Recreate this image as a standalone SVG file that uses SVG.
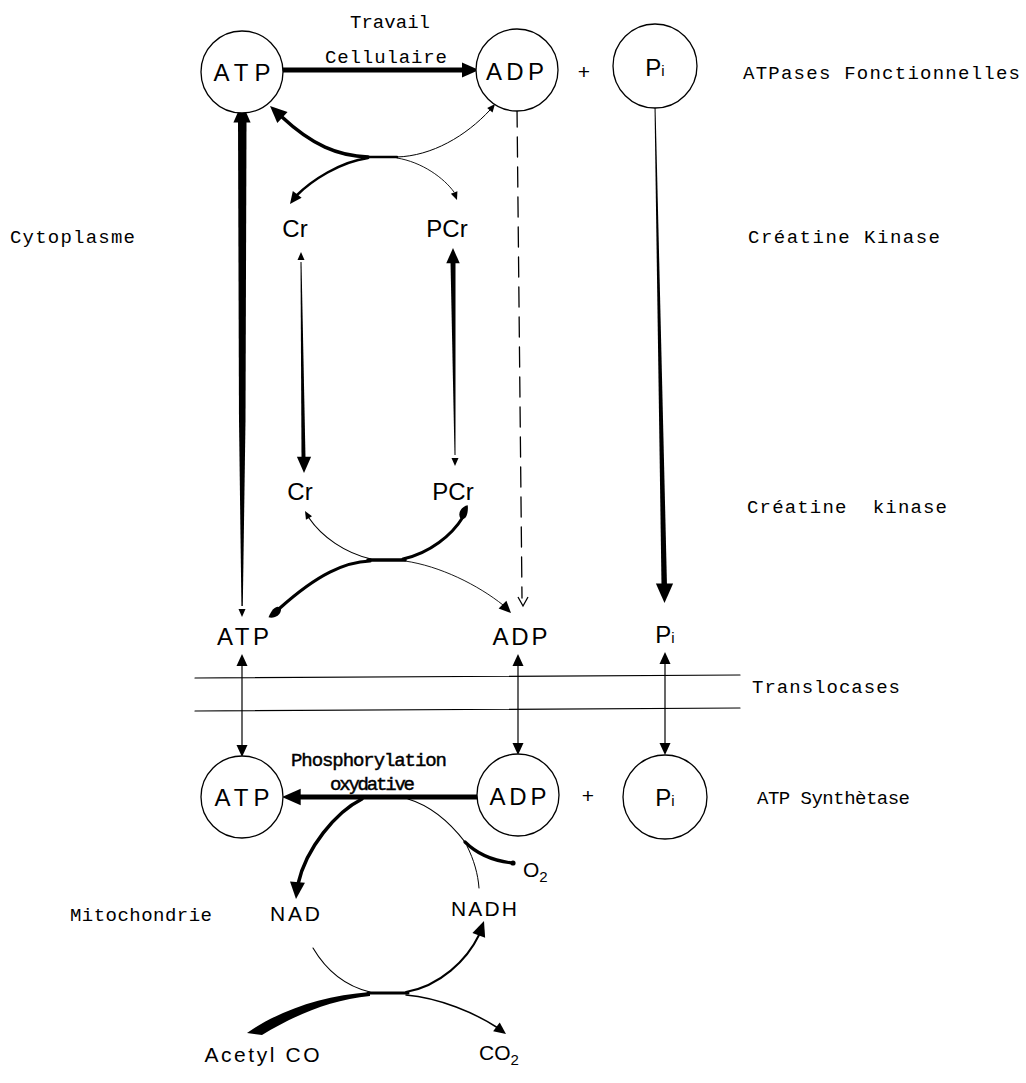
<svg xmlns="http://www.w3.org/2000/svg" width="1026" height="1083" viewBox="0 0 1026 1083">
<style>
 .c{fill:#fff;stroke:#000;stroke-width:1.3}
 .n{font-family:"Liberation Sans",Arial,sans-serif;font-size:24px;text-anchor:middle;fill:#000}
 .m{font-family:"Liberation Sans",Arial,sans-serif;font-size:21px;text-anchor:middle;fill:#000}
 .l{font-family:"Liberation Mono","DejaVu Sans Mono",monospace;font-size:19px;fill:#000}
 .b{stroke:#000;stroke-width:0.45}
 .s{fill:none;stroke:#000;stroke-linecap:round}
 .f{fill:#000;stroke:none}
</style>
<defs>
 <path id="hb" d="M0,0 L-17,-7.5 L-17,7.5 Z"/>
 <path id="hm" d="M0,0 L-12,-5.5 L-12,5.5 Z"/>
 <path id="hs" d="M0,0 L-8,-3.5 L-8,3.5 Z"/>
 <path id="hd" d="M2,0 C-1,-5 -9,-7 -13,-2 C-14,3 -8,5 2,0 Z"/>
 <path id="hv" d="M-9,-5 L0,0 L-9,5" fill="none" stroke="#000" stroke-width="1.3"/>
</defs>

<g id="labels">
 <text class="l" x="350" y="28" textLength="80">Travail</text>
 <text class="l" x="325" y="63" textLength="122">Cellulaire</text>
 <text class="l" x="743" y="79" textLength="277">ATPases Fonctionnelles</text>
 <text class="l" x="10" y="243" textLength="125">Cytoplasme</text>
 <text class="l" x="748" y="243" textLength="192">Créatine Kinase</text>
 <text class="l" x="747" y="513" textLength="200" xml:space="preserve">Créatine  kinase</text>
 <text class="l" x="752" y="693" textLength="148">Translocases</text>
 <text class="l" x="757" y="804" textLength="153">ATP Synthètase</text>
 <text class="l b" x="291" y="766" textLength="156">Phosphorylation</text>
 <text class="l b" x="330" y="790" textLength="85">oxydative</text>
 <text class="l" x="70" y="921" textLength="142">Mitochondrie</text>
</g>

<g id="connectors">
 <!-- Travail cellulaire ATP -> ADP -->
 <line class="s" x1="283" y1="70" x2="464" y2="70" stroke-width="5"/>
 <use href="#hb" transform="translate(479,70)"/>
 <!-- ATP top <-> ATP lower -->
 <path class="f" d="M238,122 L246.5,122 L245.5,420 L242.8,606 L241.4,606 L239,420 Z"/>
 <use href="#hb" transform="translate(242,103) rotate(-90) scale(1.15)"/>
 <use href="#hs" transform="translate(242,617) rotate(90)"/>
 <!-- top coupled reaction -->
 <path class="s" d="M282,117 C312,145 338,156 368,157" stroke-width="3.5"/>
 <path class="s" d="M366,157 L397,157" stroke-width="2.5"/>
 <path class="s" d="M397,157 C432,156 466,136 490,110" stroke-width="1"/>
 <use href="#hb" transform="translate(270,106) rotate(-137)"/>
 <use href="#hs" transform="translate(495,104) rotate(-50)"/>
 <path class="s" d="M368,158 C340,162 312,180 296,196" stroke-width="2.5"/>
 <use href="#hm" transform="translate(290,204) rotate(127)"/>
 <path class="s" d="M397,158 C422,162 444,178 454,192" stroke-width="0.9"/>
 <use href="#hs" transform="translate(457,200) rotate(69)"/>
 <!-- Cr vertical -->
 <path class="f" d="M300.5,262 L301.5,262 L305.5,458 L301.5,458 Z"/>
 <use href="#hs" transform="translate(301,252) rotate(-90)"/>
 <use href="#hb" transform="translate(304,473) rotate(90) scale(0.95)"/>
 <!-- PCr vertical -->
 <path class="f" d="M450.5,262 L455.5,262 L455.5,455 L454.5,455 Z"/>
 <use href="#hb" transform="translate(453,248) rotate(-90) scale(0.9)"/>
 <use href="#hs" transform="translate(455,466) rotate(90)"/>
 <!-- ADP dashed -->
 <line class="s" x1="517" y1="107" x2="522" y2="598" stroke-width="1.3" stroke-dasharray="20 10" stroke-linecap="butt"/>
 <use href="#hv" transform="translate(523,606) rotate(90)"/>
 <!-- Pi vertical -->
 <path class="f" d="M654.5,106 L655.5,106 L667,586 L661.5,586 Z"/>
 <use href="#hb" transform="translate(664.5,603) rotate(90) scale(1.15)"/>
 <!-- lower coupled reaction -->
 <path class="s" d="M371,559 C345,553 322,537 309,518" stroke-width="1.2"/>
 <use href="#hs" transform="translate(305,511) rotate(-120)"/>
 <path class="s" d="M403,559 C430,553 452,535 463,517" stroke-width="3"/>
 <use href="#hd" transform="translate(467,507) rotate(-68)"/>
 <path class="s" d="M368,560 L405,560" stroke-width="3.5"/>
 <path class="s" d="M370,561 C345,562 318,574 280,608" stroke-width="3.2"/>
 <use href="#hd" transform="translate(270,616) rotate(138)"/>
 <path class="s" d="M405,561 C440,566 478,585 503,605" stroke-width="0.9"/>
 <use href="#hm" transform="translate(511,613) rotate(45)"/>
 <!-- membrane -->
 <line class="s" x1="195" y1="678" x2="740" y2="675" stroke-width="1.2"/>
 <line class="s" x1="195" y1="711" x2="740" y2="708" stroke-width="1.2"/>
 <!-- translocase verticals -->
 <line class="s" x1="242" y1="664" x2="242" y2="747" stroke-width="1.2"/>
 <use href="#hm" transform="translate(242,654) rotate(-90)"/>
 <use href="#hm" transform="translate(242,757) rotate(90)"/>
 <line class="s" x1="518" y1="664" x2="518" y2="745" stroke-width="1.2"/>
 <use href="#hm" transform="translate(518,654) rotate(-90)"/>
 <use href="#hm" transform="translate(518,755) rotate(90)"/>
 <line class="s" x1="665" y1="662" x2="665" y2="745" stroke-width="1.2"/>
 <use href="#hm" transform="translate(665,652) rotate(-90)"/>
 <use href="#hm" transform="translate(665,755) rotate(90)"/>
 <!-- oxidative phosphorylation ADP -> ATP -->
 <line class="s" x1="478" y1="797" x2="298" y2="797" stroke-width="5"/>
 <use href="#hb" transform="translate(282,797) rotate(180) scale(1.1)"/>
 <path class="s" d="M362,799 C336,812 306,848 298,884" stroke-width="3.5"/>
 <use href="#hb" transform="translate(296,899) rotate(95)"/>
 <path class="s" d="M408,799 C428,805 448,820 465,842" stroke-width="1.2"/>
 <path class="s" d="M465,842 C478,855 495,861 512,863" stroke-width="3.2"/>
 <circle class="f" cx="513" cy="863" r="2.6"/>
 <path class="s" d="M467,846 C474,860 478,874 479,888" stroke-width="1"/>
 <!-- Krebs coupling -->
 <path class="s" d="M313,948 C326,970 345,986 370,992" stroke-width="1.1"/>
 <path class="s" d="M368,993 L408,993" stroke-width="3"/>
 <path class="s" d="M406,992 C440,986 467,960 479,935" stroke-width="2"/>
 <use href="#hb" transform="translate(484,921) rotate(-70) scale(0.9)"/>
 <path class="f" d="M247,1033 C280,1010 322,996 370,992 L370,996 C330,1000 295,1015 262,1035 Z"/>
 <path class="s" d="M406,995 C440,998 475,1013 498,1028" stroke-width="1.5"/>
 <use href="#hm" transform="translate(506,1034) rotate(37)"/>
</g>

<g id="n-atp-top"><circle class="c" cx="242" cy="72" r="41"/><text class="n" x="242" y="81" textLength="57">ATP</text></g>
<g id="n-adp-top"><circle class="c" cx="517" cy="70" r="41"/><text class="n" x="515" y="80" textLength="58">ADP</text></g>
<g id="n-plus-top"><text class="m" x="584" y="79">+</text></g>
<g id="n-pi-top"><circle class="c" cx="655" cy="66" r="42"/><text class="n" x="655" y="76">P<tspan font-size="15">i</tspan></text></g>
<g id="n-cr1"><text class="n" x="295" y="237">Cr</text></g>
<g id="n-pcr1"><text class="n" x="447" y="237">PCr</text></g>
<g id="n-cr2"><text class="n" x="300" y="500">Cr</text></g>
<g id="n-pcr2"><text class="n" x="453" y="500">PCr</text></g>
<g id="n-atp-mid"><text class="n" x="243" y="645" textLength="52">ATP</text></g>
<g id="n-adp-mid"><text class="n" x="520" y="645" textLength="55">ADP</text></g>
<g id="n-pi-mid"><text class="n" x="665" y="643">P<tspan font-size="15">i</tspan></text></g>
<g id="n-atp-bot"><circle class="c" cx="242" cy="797" r="41"/><text class="n" x="242" y="806" textLength="55">ATP</text></g>
<g id="n-adp-bot"><circle class="c" cx="518" cy="795" r="41"/><text class="n" x="518" y="805" textLength="57">ADP</text></g>
<g id="n-plus-bot"><text class="m" x="588" y="803">+</text></g>
<g id="n-pi-bot"><circle class="c" cx="665" cy="797" r="42"/><text class="n" x="665" y="806">P<tspan font-size="15">i</tspan></text></g>
<g id="n-nad"><text class="m" x="295" y="921" textLength="50">NAD</text></g>
<g id="n-nadh"><text class="m" x="484" y="916" textLength="66">NADH</text></g>
<g id="n-o2"><text class="m" x="523" y="877" style="text-anchor:start">O<tspan font-size="15" dy="5">2</tspan></text></g>
<g id="n-acetyl"><text class="m" x="262" y="1062" textLength="115">Acetyl CO</text></g>
<g id="n-co2"><text class="m" x="499" y="1060">CO<tspan font-size="15" dy="5">2</tspan></text></g>
</svg>
